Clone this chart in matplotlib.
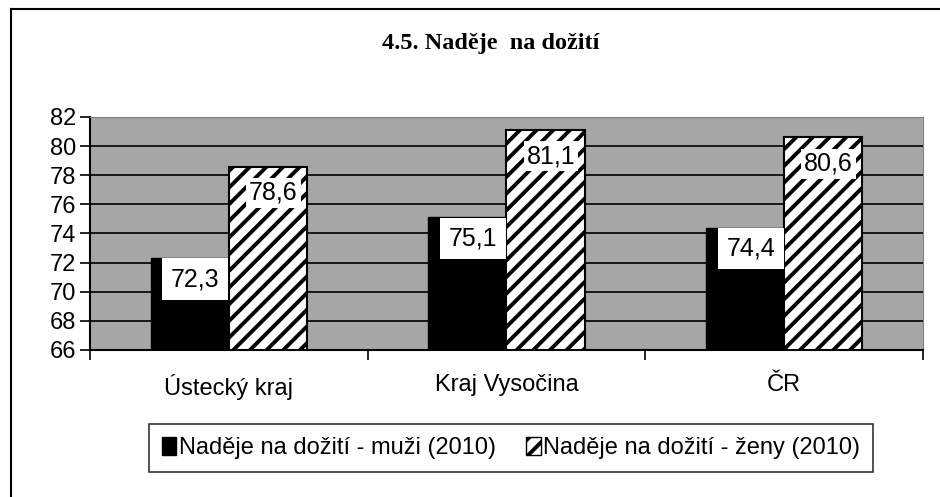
import matplotlib.pyplot as plt
import numpy as np
from matplotlib.lines import Line2D
from matplotlib.patches import Patch

# data
categories = ['Ústecký kraj', 'Kraj Vysočina', 'ČR']
muzi = [72.3, 75.1, 74.4]
zeny = [78.6, 81.1, 80.6]
series_names = ['Naděje na dožití - muži (2010)', 'Naděje na dožití - ženy (2010)']
yticks = [66, 68, 70, 72, 74, 76, 78, 80, 82]

plt.rcParams['font.family'] = ['Liberation Sans', 'DejaVu Sans']
plt.rcParams['hatch.linewidth'] = 2.8

fig = plt.figure(figsize=(9.4, 4.97), dpi=100)
ax = fig.add_axes([90 / 940, 1 - 350 / 497, 833 / 940, 233 / 497])

x = np.arange(len(categories))
w = 0.281

ax.set_facecolor('#a6a6a6')
ax.set_axisbelow(True)
ax.grid(axis='y', color='black', linewidth=1.2)

b1 = ax.bar(x - w / 2, muzi, w, color='black', edgecolor='black', linewidth=1)
b2 = ax.bar(x + w / 2, zeny, w, color='white', edgecolor='black', hatch='//', linewidth=1.5)

# value labels in white boxes
for bars, vals, dy, pad in ((b1, muzi, -15, 0.35), (b2, zeny, -19, 0.12)):
    for r, v in zip(bars, vals):
        ax.annotate(f'{v:.1f}'.replace('.', ','),
                    xy=(r.get_x() + r.get_width() / 2, v),
                    xytext=(4, dy), textcoords='offset points',
                    ha='center', va='center', fontsize=18,
                    bbox=dict(boxstyle=f'square,pad={pad}', fc='white', ec='none'))

ax.set_ylim(66, 82)
ax.set_xlim(-0.5, 2.5)
ax.set_yticks(yticks)
ax.set_yticklabels([str(t) for t in yticks], fontsize=17)
ax.tick_params(axis='y', length=7, width=1.2, pad=3)

# category ticks at boundaries, labels at centers
ax.set_xticks([-0.5, 0.5, 1.5, 2.5])
ax.set_xticklabels([])
ax.set_xticks(x, minor=True)
ax.set_xticklabels(categories, minor=True, fontsize=17)
ax.tick_params(axis='x', which='major', length=7, width=1.2, direction='out')
ax.tick_params(axis='x', which='minor', length=0, pad=17)

for s in ['top', 'right']:
    ax.spines[s].set_color('#808080')
ax.spines['left'].set_linewidth(1.5)
ax.spines['bottom'].set_linewidth(1.5)

fig.text(491 / 940, 1 - 43 / 497, '4.5. Naděje  na dožití', ha='center', va='center',
         fontsize=17.5, fontweight='bold', family='Liberation Serif')

handles = [Patch(facecolor='black', edgecolor='black'),
           Patch(facecolor='white', edgecolor='black', hatch='//')]
leg = fig.legend(handles, series_names, loc='center', bbox_to_anchor=(511 / 940, 1 - 448 / 497),
                 ncol=2, fontsize=17, frameon=True, fancybox=False, handlelength=0.6,
                 handleheight=0.8, handletextpad=0.1, columnspacing=1.3, borderpad=0.55,
                 borderaxespad=0)
leg.get_frame().set_edgecolor('black')
leg.get_frame().set_linewidth(1.2)

# outer frame (top and left edges visible)
fig.add_artist(Line2D([11 / 940, 11 / 940], [0, 1 - 9 / 497], transform=fig.transFigure,
                      color='black', linewidth=1.5))
fig.add_artist(Line2D([11 / 940, 1], [1 - 9 / 497, 1 - 9 / 497], transform=fig.transFigure,
                      color='black', linewidth=1.5))

fig.savefig('out.png', dpi=100)
